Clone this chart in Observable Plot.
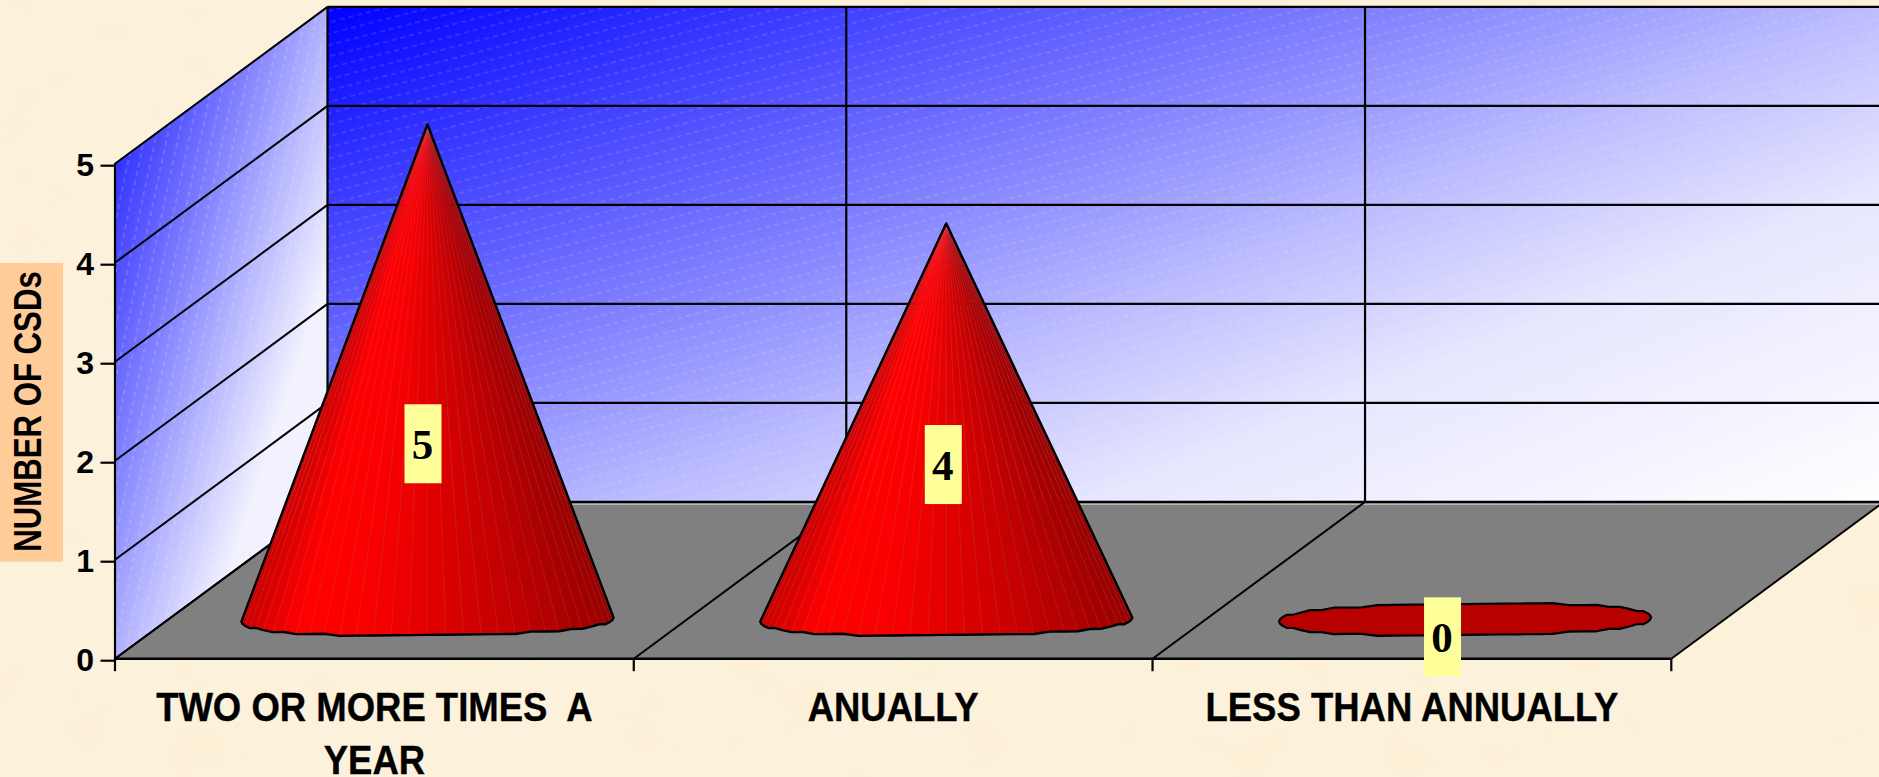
<!DOCTYPE html>
<html>
<head>
<meta charset="utf-8">
<script src="https://cdn.jsdelivr.net/npm/d3@7"></script>
<script src="https://cdn.jsdelivr.net/npm/@observablehq/plot@0.6"></script>
<style>
html,body{margin:0;padding:0;width:1879px;height:777px;overflow:hidden;background:#fcf2dc}
#paper,#chart{position:absolute;left:0;top:0}
#chart svg{overflow:hidden;white-space:pre;display:block}
</style>
</head>
<body>
<svg id="paper" width="1879" height="777">
  <filter id="blotch" x="0" y="0" width="100%" height="100%">
    <feTurbulence type="fractalNoise" baseFrequency="0.018" numOctaves="5" seed="7"/>
    <feColorMatrix type="matrix" values="0 0 0 0 0.97  0 0 0 0 0.87  0 0 0 0 0.68  2.4 0 0 0 -0.9"/>
  </filter>
  <rect width="1879" height="777" filter="url(#blotch)"/>
</svg>
<div id="chart"></div>
<script>
// ---- data ----
const categories = ["TWO OR MORE TIMES  A\nYEAR", "ANUALLY", "LESS THAN ANNUALLY"];
const values = [5, 4, 0];
const valueTicks = [0, 1, 2, 3, 4, 5];
const yTitle = "NUMBER OF CSDs";

// ---- layout (in chart units: 1 category across, 1 count up) ----
const frame = {left: 114.5, top: 163.2, bottom: 658.2, right: 1670.8, width: 1879, height: 777};
const unitX = (frame.right - frame.left) / categories.length;
const unitY = (frame.bottom - frame.top) / 5;
const depthX = 212.5 / unitX;
const depthY = 156.8 / unitY;
const coneDepth = 0.25, coneRx = 186 / unitX, coneRy = 16 / unitY, coneTilt = 2 / unitY;
const gores = 32;
const rimStep = 2.2 / unitY;           // the reference's rim is a coarse stepped polygon
const labelLift = [1.77, 1.56, -0.18];
const labelShift = [-0.0077, -0.0048, -0.0424];
const boxW = 37 / unitX, boxH = 79 / unitY;
const pxX = (p) => (p - frame.left) / unitX;
const pxY = (p) => (frame.bottom - p) / unitY;
const catY = pxY(707), catStep = 53 / unitY;

// ---- projected helpers ----
const shade = d3.scaleLinear().domain([0, 0.15, 0.35, 0.55, 0.8, 1])
  .range(["#c80000", "#ff0000", "#f80000", "#dc0000", "#b80000", "#990000"]);
const cones = values.map((v, c) => {
  const cx = c + 0.5 + coneDepth * depthX, cy = coneDepth * depthY;
  return {v, c, cx, cy, apexY: cy + v};
});
const basePt = (o, th) => {
  const s = Math.sin(th);
  const rim = coneRy * Math.sign(s) * Math.pow(Math.abs(s), 0.8);
  return {
    x: o.cx + coneRx * Math.cos(th),
    y: o.cy + Math.round(rim / rimStep) * rimStep + coneTilt * Math.cos(th)
  };
};
const goreRows = [], seamRows = [], outlineRows = [];
for (const o of cones) {
  if (o.v > 0) {
    outlineRows.push({id: o.c, x: o.cx, y: o.apexY});
    for (let k = 0; k <= gores; ++k) {
      const p = basePt(o, Math.PI + Math.PI * k / gores);
      outlineRows.push({id: o.c, ...p});
      if (k > 0 && k < gores) seamRows.push({x1: p.x, y1: p.y, x2: o.cx, y2: o.apexY});
      if (k < gores) {
        const q = basePt(o, Math.PI + Math.PI * (k + 1) / gores);
        const t = (((p.x + q.x) / 2) - o.cx + coneRx) / (2 * coneRx);
        const id = o.c + "-" + k, fill = shade(t);
        goreRows.push({id, fill, x1: p.x, y1: p.y, x2: q.x, y2: q.y});
        goreRows.push({id, fill, x1: o.cx, y1: o.apexY, x2: o.cx, y2: o.apexY});
      }
    }
    outlineRows.push({id: o.c, x: o.cx, y: o.apexY});
  } else {
    for (let k = 0; k <= 2 * gores; ++k) {
      outlineRows.push({id: o.c, flat: true, ...basePt(o, Math.PI + Math.PI * k / gores)});
    }
  }
}
const nCat = categories.length;
const labelRows = cones.map((o, i) => ({
  text: String(o.v),
  x: o.cx + labelShift[i],
  y: o.cy + labelLift[i]
}));
const catRows = categories.flatMap((s, c) =>
  s.split("\n").map((line, i) => ({line, x: c + 0.5, y: catY - i * catStep})));

function defs() {
  const g = document.createElementNS("http://www.w3.org/2000/svg", "defs");
  g.innerHTML = `
    <linearGradient id="backWall" gradientUnits="userSpaceOnUse" x1="327" y1="8" x2="710" y2="973">
      <stop offset="0" stop-color="#0000ff"/><stop offset="0.55" stop-color="#bcbcff"/>
      <stop offset="0.71" stop-color="#e6e6ff"/><stop offset="1" stop-color="#ffffff"/>
    </linearGradient>
    <linearGradient id="sideWall" gradientUnits="userSpaceOnUse" x1="58" y1="144.5" x2="340" y2="237">
      <stop offset="0" stop-color="#0000ff"/><stop offset="0.75" stop-color="#b8b8ff"/><stop offset="1" stop-color="#f2f2ff"/>
    </linearGradient>
    <pattern id="backDash" patternUnits="userSpaceOnUse" width="9" height="11" patternTransform="rotate(-14.5)">
      <line x1="0" x2="9" y1="5" y2="5" stroke="#fff" stroke-opacity="0.22" stroke-width="1" stroke-dasharray="5 4"/>
    </pattern>
    <pattern id="sideDash" patternUnits="userSpaceOnUse" width="9" height="11" patternTransform="rotate(-78)">
      <line x1="0" x2="9" y1="5" y2="5" stroke="#fff" stroke-opacity="0.28" stroke-width="1" stroke-dasharray="5 4"/>
    </pattern>`;
  return g;
}

const backEdges = [0, nCat].map((c) => ({x: c + depthX, y1: depthY, y2: 5 + depthY}));
const sideEdges = [0, 1].map((d) => ({x: d * depthX, y1: d * depthY, y2: 5 + d * depthY}));
const floorEdges = [0, 1].map((d) => ({x1: d * depthX, x2: nCat + d * depthX, y1: d * depthY, y2: d * depthY}));
const ink = "#000";

const chart = Plot.plot({
  width: frame.width, height: frame.height,
  marginLeft: frame.left, marginTop: frame.top,
  marginBottom: frame.height - frame.bottom,
  marginRight: frame.width - frame.right,
  style: {background: "transparent"},
  x: {domain: [0, nCat]},
  y: {domain: [0, 5]},
  color: {type: "identity"},
  marks: [
    defs,
    Plot.rect([0], {x1: pxX(0), x2: pxX(63), y1: pxY(263), y2: pxY(561.7), fill: "#ffcc99"}),
    Plot.text([yTitle], {x: pxX(28), y: pxY(411), text: (d) => d, rotate: -90, fontFamily: "Liberation Sans", fontWeight: "bold", fontSize: 38, fill: ink, className: "squeezeTitle"}),
    Plot.areaY(sideEdges, {x: "x", y1: "y1", y2: "y2", fill: "url(#sideWall)"}),
    Plot.areaY(sideEdges, {x: "x", y1: "y1", y2: "y2", fill: "url(#sideDash)"}),
    Plot.areaY(backEdges, {x: "x", y1: "y1", y2: "y2", fill: "url(#backWall)"}),
    Plot.areaY(backEdges, {x: "x", y1: "y1", y2: "y2", fill: "url(#backDash)"}),
    Plot.area(floorEdges, {x1: "x1", x2: "x2", y1: "y1", y2: "y2", fill: "#808080"}),
    Plot.link(valueTicks, {x1: 0, y1: (v) => v, x2: depthX, y2: (v) => v + depthY, stroke: ink, strokeWidth: 2}),
    Plot.link(valueTicks, {x1: depthX, y1: (v) => v + depthY, x2: nCat + depthX, y2: (v) => v + depthY, stroke: ink, strokeWidth: 2.2}),
    Plot.link([0], {x1: depthX, y1: depthY - 0.025, x2: nCat + depthX, y2: depthY - 0.025, stroke: "#d8d8d8", strokeWidth: 1, strokeOpacity: 0.7}),
    Plot.link(d3.range(nCat + 1), {x1: (c) => c + depthX, y1: depthY, x2: (c) => c + depthX, y2: 5 + depthY, stroke: ink, strokeWidth: 2.2}),
    Plot.link(d3.range(nCat + 1), {x1: (c) => c, y1: 0, x2: (c) => c + depthX, y2: depthY, stroke: ink, strokeWidth: 2}),
    Plot.ruleY([0], {x1: 0, x2: nCat, stroke: ink, strokeWidth: 2.5}),
    Plot.ruleX([0], {y1: 0, y2: 5, stroke: ink, strokeWidth: 2.2}),
    Plot.line(outlineRows.filter((d) => d.flat), {x: "x", y: "y", z: "id", fill: "#b80000", stroke: ink, strokeWidth: 2.2}),
    Plot.area(goreRows, {x1: "x1", x2: "x2", y1: "y1", y2: "y2", z: "id", fill: "fill", stroke: "fill", strokeWidth: 0.5}),
    Plot.link(seamRows, {x1: "x1", y1: "y1", x2: "x2", y2: "y2", stroke: "#c8b8c8", strokeOpacity: 0.18, strokeWidth: 0.6}),
    Plot.line(outlineRows.filter((d) => !d.flat), {x: "x", y: "y", z: "id", stroke: ink, strokeWidth: 2.4, strokeLinejoin: "round"}),
    Plot.rect(labelRows, {x1: (d) => d.x - boxW / 2, x2: (d) => d.x + boxW / 2, y1: (d) => d.y - boxH / 2, y2: (d) => d.y + boxH / 2, fill: "#ffff99"}),
    Plot.text(labelRows, {x: "x", y: "y", text: "text", dx: -1, dy: 1, fontFamily: "Liberation Serif", fontWeight: "bold", fontSize: 43, fill: ink}),
    Plot.axisY(valueTicks, {tickSize: 14, tickPadding: 7, strokeWidth: 2.2, stroke: ink, fill: ink, label: null, tickFormat: "d", fontFamily: "Liberation Sans", fontWeight: "bold", fontSize: 32, dy: 2}),
    Plot.axisX(d3.range(nCat + 1), {tickSize: 13, strokeWidth: 2.2, stroke: ink, tickFormat: () => "", label: null}),
    Plot.text(catRows, {x: "x", y: "y", text: "line", fontFamily: "Liberation Sans", fontWeight: "bold", fontSize: 41, fill: ink, stroke: ink, strokeWidth: 0.4, className: "squeezeCat"})
  ]
});
document.getElementById("chart").append(chart);

// the reference's labels are horizontally condensed
const condense = (selector, factor) => chart.querySelectorAll(selector + " text").forEach((t) => {
  t.style.whiteSpace = "pre";
  t.setAttribute("textLength", (t.getComputedTextLength() * factor).toFixed(1));
  t.setAttribute("lengthAdjust", "spacingAndGlyphs");
});
condense(".squeezeCat", 0.89);
condense(".squeezeTitle", 0.82);
</script>
</body>
</html>
